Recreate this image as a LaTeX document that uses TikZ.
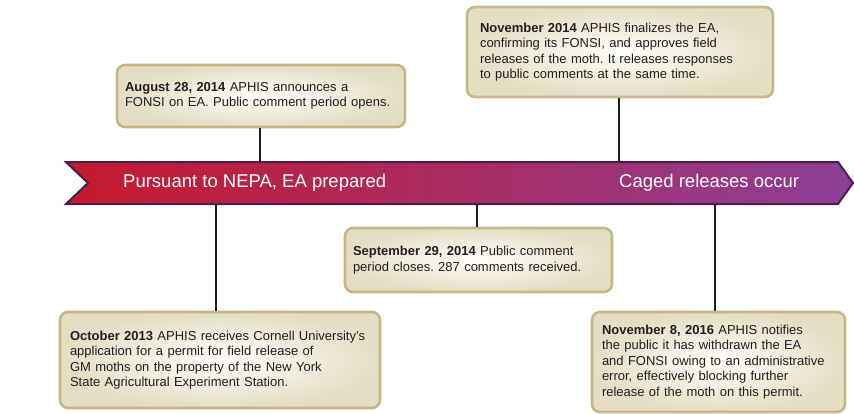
\documentclass[tikz,border=0pt]{standalone}
\usepackage{fontspec}
\setmainfont{Liberation Sans}
\frenchspacing
\definecolor{boxedge}{HTML}{C6B688}
\definecolor{boxin}{HTML}{FFFEF9}
\definecolor{boxout}{HTML}{E5DEC4}
\definecolor{nepared}{HTML}{C5192D}
\definecolor{nepamid}{HTML}{AA2150}
\definecolor{nepapurple}{HTML}{8D3F97}
\definecolor{bandedge}{HTML}{4A1D4F}
\definecolor{ink}{HTML}{231F20}
\tikzset{
  event/.style={draw=boxedge, line width=2.6pt, rounded corners=8pt,
    inner color=boxin, outer color=boxout, align=left, inner ysep=0pt,
    text=ink, font=\fontsize{13}{15.5}\selectfont},
  stem/.style={line width=2.6pt, draw=ink},
  bandtext/.style={text=white, inner sep=0pt, anchor=west,
    font=\fontsize{18.5}{20}\selectfont}
}
\begin{document}
\begin{tikzpicture}[x=1pt,y=-1pt]
\useasboundingbox (0,0) rectangle (854,413);
% the band
\draw[bandedge, line width=2pt, left color=nepared, middle color=nepamid, right color=nepapurple]
  (66,162) -- (838,162) -- (853,183) -- (838,204) -- (66,204) -- (88,183) -- cycle;
\coordinate (btop) at (0,162);
\coordinate (bbot) at (0,204);
\node[bandtext] (nepa) at (123,183) {Pursuant to NEPA, EA prepared};
\node[bandtext] (caged) at (619,183) {Caged releases occur};
% above the band
\node[event, text width=272pt, inner xsep=8pt, minimum height=62pt] (aug) at (261,96)
  {\textbf{August 28, 2014} APHIS announces a\\FONSI on EA. Public comment period opens.};
\node[event, text width=280pt, inner xsep=13pt, minimum height=90pt] (nov14) at (620,52)
  {\textbf{November 2014} APHIS finalizes the EA,\\confirming its FONSI, and approves field\\releases of the moth. It releases responses\\to public comments at the same time.};
% below the band
\node[event, text width=251pt, inner xsep=8pt, minimum height=64pt] (sep) at (478.5,260)
  {\textbf{September 29, 2014} Public comment\\period closes. 287 comments received.};
\node[event, text width=300pt, inner xsep=10pt, minimum height=96pt] (oct) at (220,360)
  {\textbf{October 2013} APHIS receives Cornell University's\\application for a permit for field release of\\GM moths on the property of the New York\\State Agricultural Experiment Station.};
\node[event, text width=233pt, inner xsep=10pt, minimum height=100pt] (nov16) at (718.5,362)
  {\textbf{November 8, 2016} APHIS notifies\\the public it has withdrawn the EA\\and FONSI owing to an administrative\\error, effectively blocking further\\release of the moth on this permit.};
\draw[stem] ([xshift=-1pt]aug.south) -- ([xshift=-1pt]aug.south |- btop);
\draw[stem] ([xshift=-1pt]nov14.south) -- ([xshift=-1pt]nov14.south |- btop);
\draw[stem] ([xshift=-1.5pt]sep.north) -- ([xshift=-1.5pt]sep.north |- bbot);
\draw[stem] ([xshift=-4pt]oct.north) -- ([xshift=-4pt]oct.north |- bbot);
\draw[stem] ([xshift=-3.5pt]nov16.north) -- ([xshift=-3.5pt]nov16.north |- bbot);
\end{tikzpicture}
\end{document}
